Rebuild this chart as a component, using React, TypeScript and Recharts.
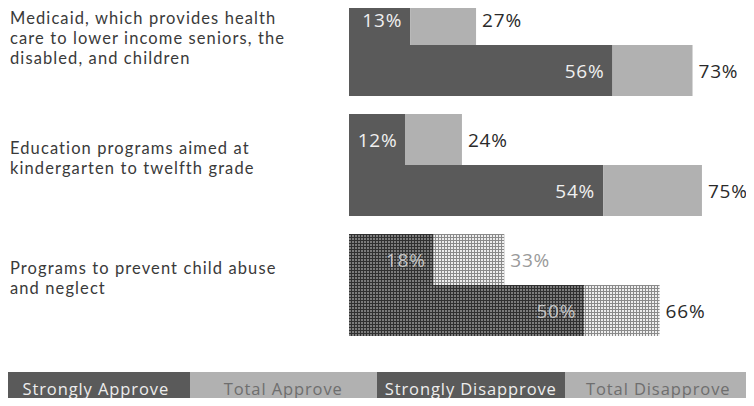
import React from 'react';
import { BarChart, Bar, XAxis, YAxis, Cell, LabelList } from 'recharts';

const categories = [
    'Medicaid, which provides health\ncare to lower income seniors, the\ndisabled, and children',
    'Education programs aimed at\nkindergarten to twelfth grade',
    'Programs to prevent child abuse\nand neglect',
];
const strongDisapprove = [13, 12, 18];
const totalDisapprove = [27, 24, 33];
const strongApprove = [56, 54, 50];
const totalApprove = [73, 75, 66];

const legendItems = ['Strongly Approve', 'Total Approve', 'Strongly Disapprove', 'Total Disapprove'];

const DARK = '#5a5a5a';
const LIGHT = '#b1b1b1';
const FONT = '"Open Sans", Lato, sans-serif';
const LABEL_FONT = 'Lato, "Open Sans", sans-serif';
// the last row is printed with a coarse screen instead of a fine one
const SCREENED_ROW = 2;

const rows = categories.map((name, i) => ({
    name,
    disStrong: strongDisapprove[i],
    disRest: totalDisapprove[i] - strongDisapprove[i],
    appStrong: strongApprove[i],
    appRest: totalApprove[i] - strongApprove[i],
}));

const CategoryTick = (props: any) => {
    const { y, payload } = props;
    const lines = String(payload.value).split('\n');
    const lineHeight = 20;
    const top = y - 7 - ((lines.length - 1) * lineHeight) / 2;
    return (
        <text
            x={10}
            y={top}
            fill="#3a3a3a"
            fontSize={16.5}
            letterSpacing={1.1}
            fontFamily={LABEL_FONT}
            dominantBaseline="central"
        >
            {lines.map((line, i) => (
                <tspan key={i} x={10} y={top + i * lineHeight}>
                    {line}
                </tspan>
            ))}
        </text>
    );
};

const InsideLabel = (props: any) => {
    const { x, y, width, height, value, index } = props;
    const screened = index === SCREENED_ROW;
    return (
        <text
            x={x + width - 8}
            y={y + height / 2}
            textAnchor="end"
            dominantBaseline="central"
            fill={screened ? '#c4c4c4' : '#f0f0f0'}
            fontSize={19}
            letterSpacing={0.8}
            fontFamily={FONT}
        >
            {value}%
        </text>
    );
};

const OutsideLabel = (props: any) => {
    const { x, y, width, height, value, index, muted } = props;
    const screened = muted && index === SCREENED_ROW;
    return (
        <text
            x={x + width + 6}
            y={y + height / 2}
            textAnchor="start"
            dominantBaseline="central"
            fill={screened ? '#9a9a9a' : '#2a2a2a'}
            fontSize={19}
            letterSpacing={0.8}
            fontFamily={FONT}
        >
            {value}%
        </text>
    );
};

const fillFor = (index: number, dark: boolean) => {
    if (index === SCREENED_ROW) return dark ? 'url(#screenDark)' : 'url(#screenLight)';
    return dark ? DARK : LIGHT;
};

export default function App() {
    return (
        <div style={{ position: 'relative', width: 754, height: 406, margin: -8, overflow: 'hidden', background: '#fff' }}>
            <div style={{ position: 'absolute', left: 0, top: -15 }}>
                <BarChart
                    width={754}
                    height={360}
                    data={rows}
                    layout="vertical"
                    margin={{ top: 0, right: 5, bottom: 0, left: 0 }}
                    barSize={51}
                    barGap={0}
                >
                    <defs>
                        <pattern id="screenDark" width={3} height={3} patternUnits="userSpaceOnUse">
                            <rect width={3} height={3} fill="#303030" />
                            <rect x={1} y={1} width={2} height={2} fill="#7c7c7c" />
                        </pattern>
                        <pattern id="screenLight" width={3} height={3} patternUnits="userSpaceOnUse">
                            <rect width={3} height={3} fill="#8a8a8a" />
                            <rect x={1} y={1} width={2} height={2} fill="#eeeeee" />
                        </pattern>
                    </defs>
                    <XAxis type="number" domain={[0, 85]} hide />
                    <YAxis
                        type="category"
                        dataKey="name"
                        width={349}
                        axisLine={false}
                        tickLine={false}
                        tick={<CategoryTick />}
                    />
                    <Bar dataKey="disStrong" stackId="dis" isAnimationActive={false}>
                        {rows.map((r, i) => (
                            <Cell key={r.name} fill={fillFor(i, true)} />
                        ))}
                        <LabelList content={<InsideLabel />} />
                    </Bar>
                    <Bar dataKey="disRest" stackId="dis" isAnimationActive={false}>
                        {rows.map((r, i) => (
                            <Cell key={r.name} fill={fillFor(i, false)} />
                        ))}
                        <LabelList content={<OutsideLabel muted />} />
                    </Bar>
                    <Bar dataKey="appStrong" stackId="app" isAnimationActive={false}>
                        {rows.map((r, i) => (
                            <Cell key={r.name} fill={fillFor(i, true)} />
                        ))}
                        <LabelList content={<InsideLabel />} />
                    </Bar>
                    <Bar dataKey="appRest" stackId="app" isAnimationActive={false}>
                        {rows.map((r, i) => (
                            <Cell key={r.name} fill={fillFor(i, false)} />
                        ))}
                        <LabelList content={<OutsideLabel />} />
                    </Bar>
                </BarChart>
            </div>
            <div style={{ position: 'absolute', left: 2, top: 372, width: 750, height: 32, display: 'flex' }}>
                {legendItems.map((item, i) => {
                    const strong = i % 2 === 0;
                    return (
                        <div
                            key={item}
                            style={{
                                flex: 1,
                                background: strong ? DARK : LIGHT,
                                color: strong ? '#ededed' : '#6e6e6e',
                                fontFamily: FONT,
                                fontSize: 16.5,
                                letterSpacing: 0.9,
                                display: 'flex',
                                alignItems: 'center',
                                justifyContent: 'center',
                            }}
                        >
                            {item}
                        </div>
                    );
                })}
            </div>
        </div>
    );
}
